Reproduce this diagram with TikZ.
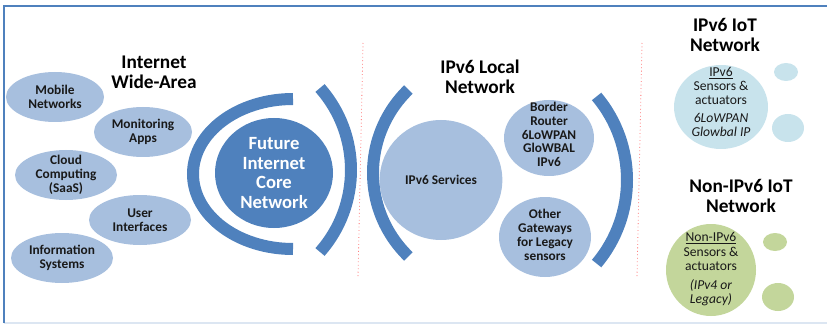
\documentclass[tikz,border=0pt]{standalone}
\usepackage{fontspec}
\setmainfont{Carlito}
\usetikzlibrary{shapes.geometric}
\definecolor{lblue}{HTML}{A7BFDE}
\definecolor{dblue}{HTML}{4F81BD}
\definecolor{cyanl}{HTML}{C8E3EC}
\definecolor{olive}{HTML}{C3D69B}
\definecolor{framel}{HTML}{DCE6F2}
\definecolor{redd}{HTML}{FF6F6F}
\tikzset{
  bub/.style={ellipse, fill=lblue, inner sep=0pt, align=center, text=black!90,
    font=\bfseries\fontsize{10}{10.5}\selectfont},
  blob/.style={ellipse, inner sep=0pt},
  btxt/.style={inner sep=0pt, align=center, text=black!90,
    font=\bfseries\fontsize{10}{10.3}\selectfont},
  itxt/.style={inner sep=0pt, align=center, text=black!90,
    font=\fontsize{10.2}{10.5}\selectfont},
  core/.style={ellipse, fill=dblue, inner sep=0pt, align=center, text=white,
    font=\bfseries\fontsize{14}{14.6}\selectfont},
  ttl/.style={align=center, inner sep=0pt, font=\bfseries\fontsize{14.5}{15}\selectfont},
  band/.style={draw=dblue, line width=9pt},
  sep/.style={draw=redd, line width=0.6pt, dotted},
}
\begin{document}
\begin{tikzpicture}[x=0.75pt, y=0.75pt]
\useasboundingbox (0,0) rectangle (827,325);
% frame
\draw[framel, line width=1.2pt] (4,2) -- (827,2);
\draw[dblue, line width=1.6pt] (3,319) -- (827,319);
\draw[dblue, line width=1.6pt] (4,319) -- (4,2);
% separators
\coordinate (s1t) at (363,282); \coordinate (s1b) at (358,48);
\coordinate (s2t) at (642,282); \coordinate (s2b) at (637,48);
\draw[sep] (s1t) -- (s1b);
\draw[sep] (s2t) -- (s2b);
% Internet wide-area
\node[ttl] (t1) at (154,253) {Internet\\Wide-Area};
\node[bub, minimum width=73.5pt, minimum height=37.5pt] (mob) at (55,228) {Mobile\\Networks};
\node[bub, minimum width=73.5pt, minimum height=37.5pt] (mon) at (143,193) {Monitoring\\Apps};
\node[blob, fill=lblue, minimum width=76.5pt, minimum height=37.5pt] (cld) at (66,150) {};
\node[btxt] (cldt) at (cld.center) {Cloud\\Computing\\(SaaS)};
\node[bub, minimum width=76.5pt, minimum height=37.5pt] (usr) at (140,105) {User\\Interfaces};
\node[bub, minimum width=76.5pt, minimum height=37.5pt] (inf) at (62,67) {Information\\Systems};
% core
\node[core, minimum width=88.5pt, minimum height=82.5pt] (core) at (274,152) {Future\\Internet\\Core\\Network};
\coordinate (c1top) at (293,226);
\draw[band] (c1top) arc[start angle=90, end angle=270, x radius=100, y radius=75];
\coordinate (c2) at (227,155);
\draw[band] (c2) ++(-41.4:124) arc[start angle=-41.4, end angle=41.4, radius=124];
% IPv6 local network
\node[ttl] (t2) at (480,248) {IPv6 Local\\Network};
\coordinate (c3) at (489,152);
\draw[band] (c3) ++(134:116) arc[start angle=134, end angle=226, radius=116];
\coordinate (c4) at (497,145);
\draw[band] (c4) ++(-40:130) arc[start angle=-40, end angle=40, radius=130];
\node[bub, minimum width=92pt, minimum height=90pt] (svc) at (441,145) {IPv6 Services};
\node[blob, fill=lblue, minimum width=67.5pt, minimum height=57pt] (brd) at (549,187) {};
\node[btxt] (brdt) at (549,190.5) {Border\\Router\\6LoWPAN\\GloWBAL\\IPv6};
\node[blob, fill=lblue, minimum width=69pt, minimum height=60pt] (gw) at (545,88) {};
\node[btxt, font=\bfseries\fontsize{10}{10.5}\selectfont] (gwt) at (545,90) {Other\\Gateways\\for Legacy\\sensors};
% IPv6 IoT network
\node[ttl] (t3) at (725,290) {IPv6 IoT\\Network};
\node[blob, fill=cyanl, minimum width=70.5pt, minimum height=63pt] (iot) at (721,218) {};
\node[itxt] (iott) at (721,223) {\underline{IPv6}\\[0.5pt]Sensors \&\\actuators\\[3pt]\textit{6LoWPAN}\\\textit{Glowbal IP}};
\node[blob, fill=cyanl, minimum width=18pt, minimum height=13.5pt] (iot1) at (786,253) {};
\node[blob, fill=cyanl, minimum width=24pt, minimum height=21pt] (iot2) at (788,197) {};
% Non-IPv6 IoT network
\node[ttl] (t4) at (741,129) {Non-IPv6 IoT\\Network};
\node[blob, fill=olive, minimum width=67.5pt, minimum height=69pt] (non) at (711,55) {};
\node[itxt] (nont) at (711,56) {\underline{Non-IPv6}\\[0.5pt]Sensors \&\\actuators\\[4pt]\textit{(IPv4 or}\\\textit{Legacy)}};
\node[blob, fill=olive, minimum width=18pt, minimum height=13.5pt] (non1) at (775,83) {};
\node[blob, fill=olive, minimum width=24pt, minimum height=21pt] (non2) at (778,28) {};
\end{tikzpicture}
\end{document}
